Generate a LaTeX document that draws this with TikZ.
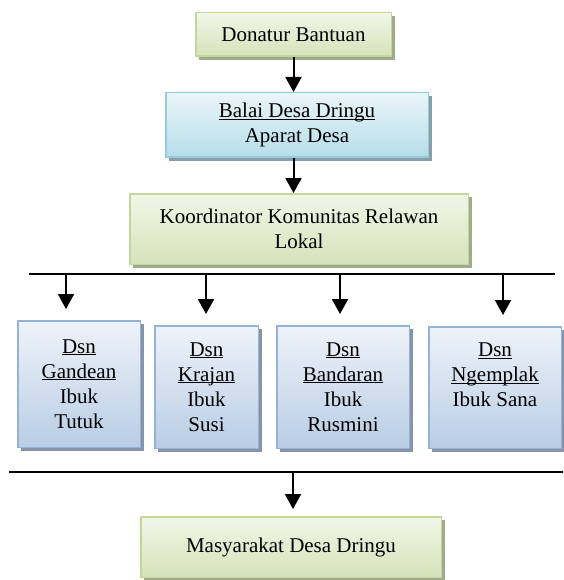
\documentclass[tikz,border=0pt]{standalone}
\usepackage{fontspec}
\setmainfont{Liberation Serif}
\usetikzlibrary{positioning}
\usetikzlibrary{arrows.meta}
\usetikzlibrary{shadows}

\definecolor{grnline}{HTML}{C3D69B}
\definecolor{grntop}{HTML}{F1F6E8}
\definecolor{grnbot}{HTML}{D5E3B9}
\definecolor{grnshade}{HTML}{A2AA8C}
\definecolor{cyanline}{HTML}{93CDDD}
\definecolor{cyantop}{HTML}{EAF5F9}
\definecolor{cyanbot}{HTML}{B6DDE8}
\definecolor{cyanshade}{HTML}{8A9EA8}
\definecolor{bluline}{HTML}{95B3D7}
\definecolor{blutop}{HTML}{EEF3F9}
\definecolor{blubot}{HTML}{B9CDE5}
\definecolor{blushade}{HTML}{8794A8}

\newcommand{\boxfont}{\fontsize{21}{25}\selectfont}
\newcommand{\ulbox}[1]{\underline{\raisebox{0pt}[\height][0pt]{#1}}}

\tikzset{
  orgbox/.style={draw,line width=1.5pt,align=center,inner sep=2pt,font=\boxfont},
  greenbox/.style={orgbox,draw=grnline,top color=grntop,bottom color=grnbot,
    drop shadow={shadow xshift=3.5pt,shadow yshift=-3.5pt,fill=grnshade,opacity=1}},
  cyanbox/.style={orgbox,draw=cyanline,top color=cyantop,bottom color=cyanbot,
    drop shadow={shadow xshift=3.5pt,shadow yshift=-3.5pt,fill=cyanshade,opacity=1}},
  dsnbox/.style={orgbox,draw=bluline,top color=blutop,bottom color=blubot,
    drop shadow={shadow xshift=3.5pt,shadow yshift=-3.5pt,fill=blushade,opacity=1}},
  arr/.style={line width=2pt,-{Triangle[width=16pt,length=15pt]}},
  bar/.style={line width=2pt}
}

\begin{document}
\begin{tikzpicture}[x=1pt,y=1pt,node distance=35pt]
	\useasboundingbox (0,0) rectangle (563,-580);
	\node (don) [greenbox,minimum width=195.5pt,minimum height=43.5pt] at (293.5,-34.5) {Donatur Bantuan};
	\node (balai) [cyanbox,minimum width=262.5pt,minimum height=64.5pt,below=of don,xshift=3.5pt] {\ulbox{Balai Desa Dringu}\\Aparat Desa};
	\node (koord) [greenbox,minimum width=338.5pt,minimum height=70.5pt,below=of balai,xshift=2pt] {Koordinator Komunitas Relawan\\Lokal};
	\node (d1) [dsnbox,minimum width=122.5pt,minimum height=126.5pt] at (79,-384) {\ulbox{Dsn}\\\ulbox{Gandean}\\Ibuk\\Tutuk};
	\node (d2) [dsnbox,minimum width=103.5pt,minimum height=122.5pt] at (206.5,-387) {\ulbox{Dsn}\\\ulbox{Krajan}\\Ibuk\\Susi};
	\node (d3) [dsnbox,minimum width=132.5pt,minimum height=122.5pt] at (343,-387) {\ulbox{Dsn}\\\ulbox{Bandaran}\\Ibuk\\Rusmini};
	\node (d4) [dsnbox,minimum width=132.5pt,minimum height=121.5pt] at (495,-387.5) {\ulbox{Dsn}\\\ulbox{Ngemplak}\\Ibuk Sana\\\mbox{}};
	\node (masy) [greenbox,minimum width=300.5pt,minimum height=60.5pt] at (291,-547) {Masyarakat Desa Dringu};
	\draw[arr] (don.south) -- (don.south |- balai.north);
	\draw[arr] (don.south |- balai.south) -- (don.south |- koord.north);
	\coordinate (barl) at (29,-274);
	\coordinate (barr) at (555,-274);
	\draw[bar] (barl) -- (barr);
	\foreach \i/\x in {1/66,2/206,3/340,4/503} {
		\coordinate (drop\i) at (\x,-274);
		\draw[arr,shorten >=11pt] (drop\i) -- (drop\i |- d\i.north);
	}
	\coordinate (lowl) at (9,-471.5);
	\coordinate (lowr) at (563,-471.5);
	\draw[bar] (lowl) -- (lowr);
	\coordinate (drop5) at (293,-471.5);
	\draw[arr,shorten >=7pt] (drop5) -- (drop5 |- masy.north);
\end{tikzpicture}
\end{document}
